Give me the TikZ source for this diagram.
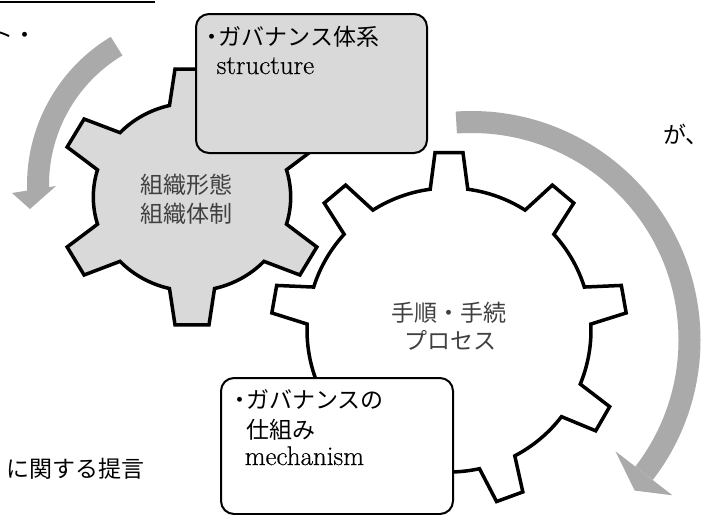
\documentclass[tikz,border=0pt]{standalone}
\usepackage{fontspec}
\newfontfamily\jp{Noto Sans CJK JP}
\newfontfamily\enfont{Latin Modern Roman}[FakeBold=0.5]
\usetikzlibrary{calc}
\definecolor{gearfill}{RGB}{217,217,217}
\definecolor{arrowc}{RGB}{170,170,170}
\definecolor{geartext}{RGB}{64,64,64}
\begin{document}
\begin{tikzpicture}[x=1pt,y=1pt,
  gearshape/.style={line width=3.5pt, line join=miter, draw=black},
  boxshape/.style={draw=black, line width=2pt, rounded corners=13pt, inner sep=0pt, anchor=north west},
  jptext/.style={font=\jp\fontsize{23}{28}\selectfont, inner sep=0pt, anchor=base west},
  entext/.style={font=\enfont\fontsize{27}{28}\selectfont, inner sep=0pt, anchor=base west},
  geartxt/.style={font=\jp\fontsize{23}{28}\selectfont, text=geartext, inner sep=0pt, anchor=base},
  band/.style={draw=arrowc, line width=22pt},
  arrowhead/.style={fill=arrowc},
]
\useasboundingbox (0,0) rectangle (701,-514);

% top rule
\draw[line width=2pt] (0,-2) -- (155,-2);

% left circular arrow
\coordinate (a1c) at (200,-185);
\draw[band] ($(a1c)+(121:162)$) arc[start angle=121, end angle=182, radius=162];
\coordinate (a1w1) at (12,-193);
\coordinate (a1w2) at (56,-186);
\coordinate (a1tip) at (30,-209);
\fill[arrowhead] (a1w1) -- (a1w2) -- (a1tip) -- cycle;

% right circular arrow
\coordinate (a2c) at (471.5,-340);
\draw[band] ($(a2c)+(94:218)$) arc[start angle=94, end angle=-37.7, radius=218];
\coordinate (a2w1) at ($(a2c)+(-37.7:182)$);
\coordinate (a2w2) at ($(a2c)+(-37.7:254)$);
\coordinate (a2tip) at ($(a2c)+(-42.7:222)$);
\fill[arrowhead] (a2w1) -- (a2w2) -- (a2tip) -- cycle;

% gear 2 (white)
\coordinate (g2c) at (449,-330);
\filldraw[gearshape, fill=white] ($(g2c)+({10-7.6}:142)$)
  \foreach \a in {10,50,...,330} { -- ($(g2c)+({\a-7.6}:142)$) -- ($(g2c)+({\a-4.5}:178)$) -- ($(g2c)+({\a+4.5}:178)$) -- ($(g2c)+({\a+7.6}:142)$) arc[start angle={\a+7.6}, end angle={\a+32.4}, radius=142] } -- cycle;

% gear 1 (grey)
\coordinate (g1c) at (192,-197);
\begin{scope}[shift={(g1c)}, xscale=1.05]
\filldraw[gearshape, fill=gearfill] ({30-13.2}:94)
  \foreach \a in {30,90,...,330} { -- ({\a-13.2}:94) -- ({\a-7.2}:129) -- ({\a+7.2}:129) -- ({\a+13.2}:94) arc[start angle={\a+13.2}, end angle={\a+46.8}, radius=94] } -- cycle;
\end{scope}

% boxes
\node[boxshape, fill=gearfill, minimum width=231pt, minimum height=139pt] (box1) at (195,-13) {};
\node[boxshape, fill=white, minimum width=232pt, minimum height=136pt] (box2) at (220,-377) {};

% box texts
\node[jptext] (b1l1) at (218.5,-45) {\llap{・\kern-5pt}ガバナンス体系};
\node[entext] (b1l2) at (216.5,-74) {structure};
\node[jptext] (b2l1) at (246,-408) {\llap{・\kern-5pt}ガバナンスの};
\node[jptext] (b2l2) at (246,-438) {仕組み};
\node[entext] (b2l3) at (244.5,-465) {mechanism};

% gear texts
\node[geartxt] (g1t1) at (186.5,-193.5) {組織形態};
\node[geartxt] (g1t2) at (186.5,-222) {組織体制};
\node[geartxt] (g2t1) at (449,-321) {手順・手続};
\node[geartxt] (g2t2) at (450,-349) {プロセス};

% fragments of surrounding text
\node[jptext, anchor=base east] (tl) at (37,-43) {ト・};
\node[jptext] (tr) at (663,-143) {が、};
\node[jptext, anchor=base east] (bl) at (145,-477) {に関する提言};
\end{tikzpicture}
\end{document}
